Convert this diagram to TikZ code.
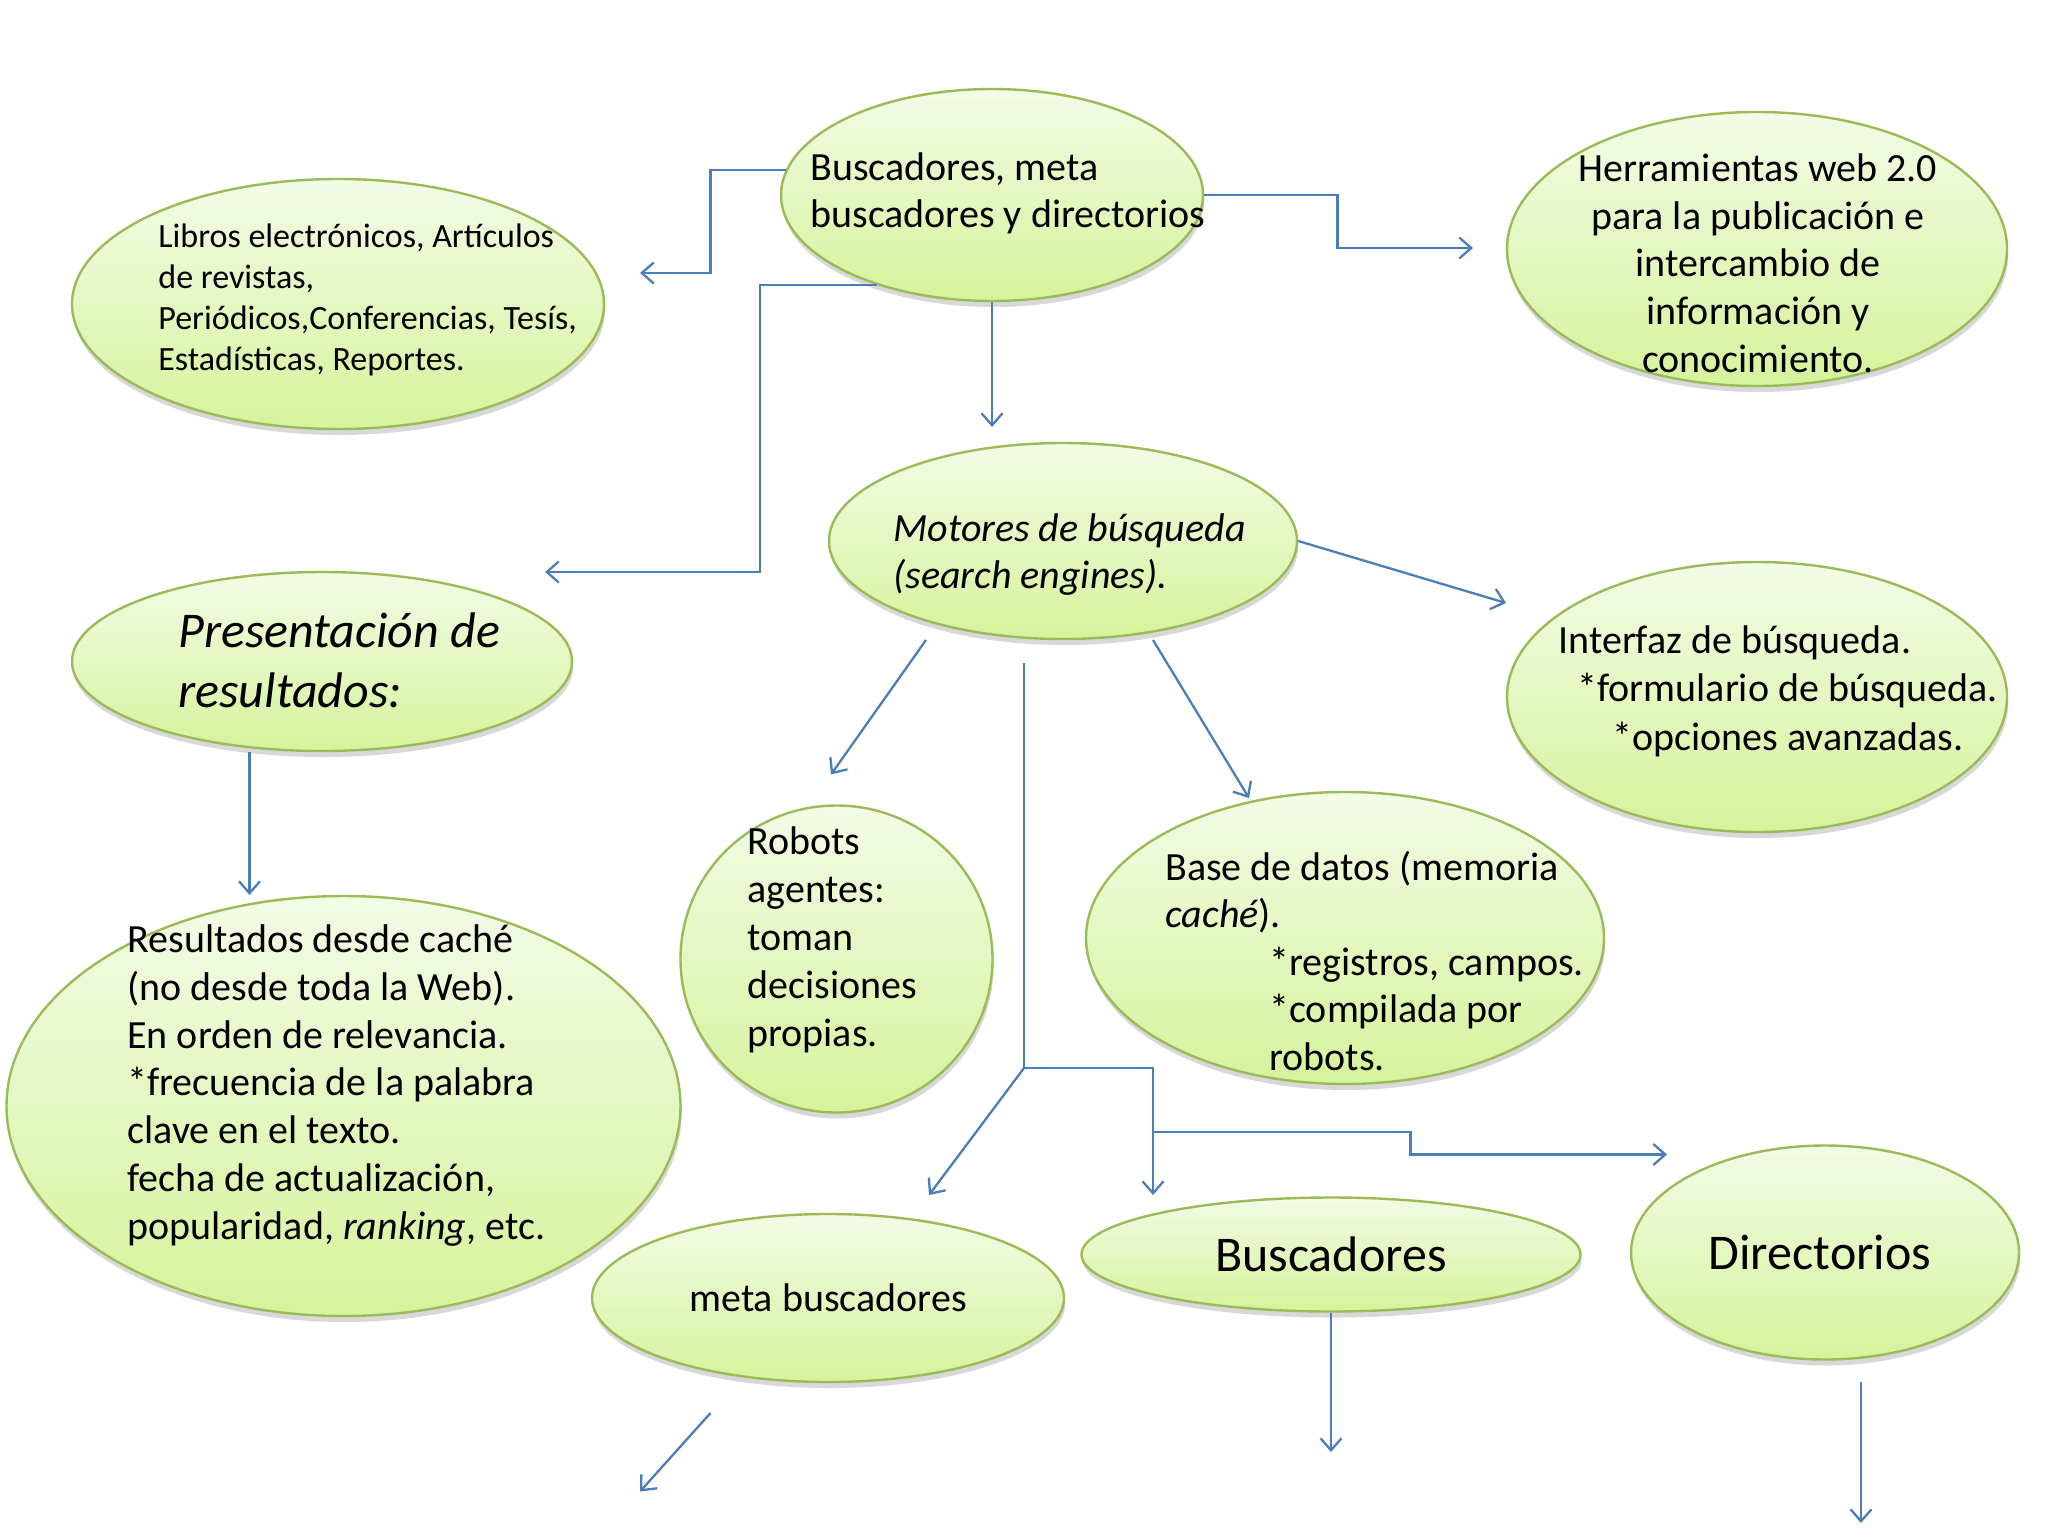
\documentclass[tikz,border=0pt]{standalone}
\usepackage{fontspec}
\setmainfont{Carlito}
\usetikzlibrary{shapes.geometric,shadows,arrows.meta}
\definecolor{bubline}{RGB}{155,187,89}
\definecolor{bubtop}{RGB}{243,251,230}
\definecolor{bubbot}{RGB}{214,243,156}
\definecolor{conblue}{RGB}{74,126,187}
\tikzset{
  bub/.style={ellipse, draw=bubline, line width=1.2pt, top color=bubtop, bottom color=bubbot,
    inner sep=0pt, drop shadow={shadow xshift=0.6pt, shadow yshift=-3pt, opacity=0.28, fill=black!55}},
  txt/.style={inner sep=0pt, anchor=base west, align=left, font=\fontsize{20}{23.8}\selectfont},
  conline/.style={draw=conblue, line width=1.15pt},
  conn/.style={conline, -{Straight Barb[length=6pt,width=10.5pt]}},
}
\begin{document}
\begin{tikzpicture}[x=0.5pt,y=-0.5pt]
\fill[white] (0,0) rectangle (2048,1536);
\useasboundingbox (0,0) rectangle (2048,1536);

% ellipses
\node[bub, minimum width=211pt, minimum height=106pt] (top) at (992,195) {};
\node[bub, minimum width=266pt, minimum height=125pt] (libros) at (338,304) {};
\node[bub, minimum width=250pt, minimum height=137pt] (herr) at (1757,249) {};
\node[bub, minimum width=234pt, minimum height=98pt] (mot) at (1063,541) {};
\node[bub, minimum width=250pt, minimum height=89.5pt] (pres) at (322,661.5) {};
\node[bub, minimum width=250pt, minimum height=135pt] (inter) at (1757,697) {};
\node[bub, minimum width=156pt, minimum height=153.5pt] (robots) at (836.5,959) {};
\node[bub, minimum width=259pt, minimum height=146pt] (base) at (1345,938) {};
\node[bub, minimum width=337pt, minimum height=210pt] (res) at (343.5,1106) {};
\node[bub, minimum width=236pt, minimum height=84pt, font=\fontsize{20}{24}\selectfont] (meta) at (828,1298) {meta buscadores};
\node[bub, minimum width=249.5pt, minimum height=57pt, font=\fontsize{25}{30}\selectfont] (busc) at (1331,1254.5) {Buscadores};
\node[bub, minimum width=194pt, minimum height=107pt, font=\fontsize{25}{30}\selectfont] (dir) at (1825,1252.5) {Directorios\kern5pt};

% texts (anchor = baseline of the last line)
\node[txt] (topt) at (810,227.6) {Buscadores, meta\\buscadores y directorios};
\node[txt, font=\fontsize{17}{20.5}\selectfont] (librost) at (158,370) {Libros electrónicos, Artículos\\de revistas,\\Periódicos,Conferencias, Tesís,\\Estadísticas, Reportes.};
\node[txt, anchor=base, align=center] (herrt) at (1758,372) {Herramientas web 2.0\\para la publicación e\\intercambio de\\información y\\conocimiento.};
\node[txt, font=\fontsize{20}{23.5}\selectfont\itshape] (mott) at (893,588) {Motores de búsqueda\\(search engines).};
\node[txt, font=\fontsize{25}{30}\selectfont\itshape] (prest) at (178,707) {Presentación de\\resultados:};
\node[txt, font=\fontsize{20}{24.25}\selectfont] (intert) at (1558,750) {Interfaz de búsqueda.\\\hspace*{9.5pt}*formulario de búsqueda.\\\hspace*{27pt}*opciones avanzadas.};
\node[txt, font=\fontsize{20}{24}\selectfont] (robt) at (747,1046) {Robots\\agentes:\\toman\\decisiones\\propias.};
\node[txt] (baset) at (1165,1070.5) {Base de datos (memoria\\\textit{caché}).\\\hspace*{52pt}*registros, campos.\\\hspace*{52pt}*compilada por\\\hspace*{52pt}robots.};
\node[txt, font=\fontsize{20}{23.85}\selectfont] (rest) at (127,1239) {Resultados desde caché\\(no desde toda la Web).\\En orden de relevancia.\\*frecuencia de la palabra\\clave en el texto.\\fecha de actualización,\\popularidad, \textit{ranking}, etc.};

% coordinates for free ends
\coordinate (aknee) at (710.5,273);
\coordinate (aend) at (640,273);
\coordinate (bknee) at (1337.5,248);
\coordinate (bend) at (1473,248);
\coordinate (cknee) at (760,572);
\coordinate (cend) at (545,572);
\coordinate (dend) at (992,427);
\coordinate (eend) at (1506,603);
\coordinate (fstart) at (926,640);
\coordinate (fend) at (831,774.5);
\coordinate (gstart) at (1153,640);
\coordinate (gend) at (1249,798);
\coordinate (hstart) at (1024,663);
\coordinate (hjunc) at (1024,1068);
\coordinate (h1end) at (929,1195);
\coordinate (h2end) at (1153,1195);
\coordinate (h3start) at (1153,1132);
\coordinate (h3knee) at (1410.5,1154.5);
\coordinate (h3end) at (1667,1154.5);
\coordinate (iend) at (249.5,895);
\coordinate (jstart) at (710.5,1413);
\coordinate (jend) at (640,1491.5);
\coordinate (kend) at (1331,1452);
\coordinate (lstart) at (1861,1382);
\coordinate (lend) at (1861,1523);

% connectors
\draw[conn] (top.173) -| (aknee) -- (aend);
\draw[conn] (top.east) -| (bknee) -- (bend);
\draw[conn] (top.218) -| (cknee) -- (cend);
\draw[conn] (top.south) -- (dend);
\draw[conn] (mot.east) -- (eend);
\draw[conn] (fstart) -- (fend);
\draw[conn] (gstart) -- (gend);
\draw[conline] (hstart) -- (hjunc);
\draw[conn] (hjunc) -- (h1end);
\draw[conn] (hjunc) -| (h2end);
\draw[conn] (h3start) -| (h3knee) -- (h3end);
\draw[conn] (pres.south -| iend) -- (iend);
\draw[conn] (jstart) -- (jend);
\draw[conn] (busc.south) -- (kend);
\draw[conn] (lstart) -- (lend);
\end{tikzpicture}
\end{document}
